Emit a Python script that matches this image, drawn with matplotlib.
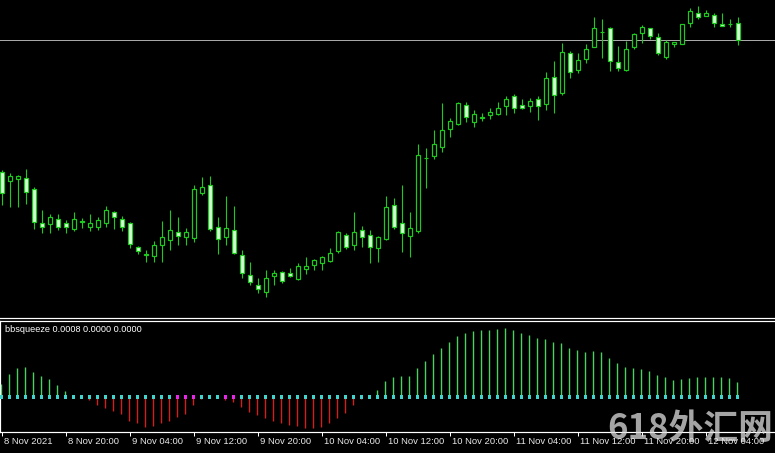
import matplotlib
matplotlib.use("Agg")
import matplotlib.pyplot as plt
import numpy as np

# ---- data (hourly candles, arbitrary price points) ----
opens = [148,139,141,142,131,97,96,101,97,91,99,93,93,97,108,101,97,73,65,64,
         75,80,88,83,82,127,135,93,83,90,65,45,35,28,44,48,47,41,51,55,
         57,59,69,85,75,90,85,72,81,115,97,84,89,162,164,173,191,196,215,198,
         202.5,205,206,214,224,215,214,221,216,243,227,267,250,261,273,288,292,258,250,273,
         287,292,283,263,276,276,297,307,304,305,296,296,297]
highs = [150,147,145,151,133,110,106,106,100,108,102,106,103,114,109,104,98,74,70,79,
         99,110,103,92,135,143,144,103,124,114,70,58,42,50,50,49,52,57,63,61,
         64,72,89,87,108,94,90,84,124,122,135,108,176,172,190,217,202,218,218,210,
         207,212,218,224,226,221,222,224,248,259,277,269,267,276,303,301,293,274,279,287,
         295,292,287,280,278,296,312,314,310,307,307,301,303]
lows = [115,113,113,116,91,87,87,90,87,89,92,89,90,93,91,89,72,66,58,58,
        58,70,75,75,78,125,89,66,75,66,42,35,27,23,35,37,43,40,46,50,
        50,58,67,71,70,73,57,58,80,91,68,63,87,132,161,168,183,195,198,193,
        199,201,205,205,207,211,208,200,210,207,225,242,247,257,273,262,249,249,249,271,
        277,281,265,261,273,276,293,301,304,293,294,293,275]
closes = [127,144,144,128,98,93,103,93,93,101,98,97,100,110,103,93,76,69,66,75,
          83,90,84,88,131,133,91,81,92,67,47,38,31,42,47,39,44,54,54,60,
          63,67,88,73,88,83,73,83,113,93,87,92,165,162,176,190,199,217,203,206,
          203,208,212,221,212,212,219,214,242,225,268,248,260,271,292,288,259,252,271,286,
          293,284,267,278,278,296,309,303,307,297,294,296,280]

# bbsqueeze momentum histogram (units of 0.0001)
momentum = [6.9,12.3,15.5,16.0,13.3,11.2,9.6,6.4,3.2,1.1,0.5,-1.6,-4.3,-5.9,-7.5,-9.1,-12.8,-13.9,-16.0,-15.5,
            -13.9,-12.8,-10.7,-9.1,-4.3,-1.1,-0.5,-0.5,-1.6,-2.7,-5.3,-8.0,-9.6,-11.2,-12.8,-13.9,-14.9,-15.5,-16.5,-16.5,
            -16.0,-13.9,-11.2,-8.5,-4.3,-1.1,0.5,3.7,8.5,10.7,11.2,11.2,15.5,19.2,22.9,26.1,29.3,32.5,34.1,35.2,
            35.7,35.7,36.3,36.8,35.7,34.1,33.1,31.5,30.9,29.3,28.8,26.1,25.1,24.0,24.5,24.0,20.8,18.1,16.0,15.5,
            14.9,13.9,11.7,10.7,9.1,9.6,10.1,10.7,10.7,10.7,10.7,10.1,8.0]
squeeze_on = [22, 23, 24, 28, 29]   # bars with magenta squeeze dots

tick_idx = [0, 8, 16, 24, 32, 40, 48, 56, 64, 72, 80, 88]
tick_labels = ["8 Nov 2021", "8 Nov 20:00", "9 Nov 04:00", "9 Nov 12:00", "9 Nov 20:00",
               "10 Nov 04:00", "10 Nov 12:00", "10 Nov 20:00", "11 Nov 04:00",
               "11 Nov 12:00", "11 Nov 20:00", "12 Nov 04:00"]
indicator_label = "bbsqueeze 0.0008 0.0000 0.0000"
watermark = "618外汇网"

# ---- figure ----
W, H = 775, 453
fig = plt.figure(figsize=(W / 100, H / 100), dpi=100, facecolor="black")
px = 1.0 / 100 * 72  # 1 pixel in points

xlim = (-0.25, (W - 2) / 8.0)

ax = fig.add_axes([0, 1 - 318 / H, 1, 318 / H], facecolor="black")
axi = fig.add_axes([0, 1 - 432 / H, 1, 111 / H], facecolor="black")

n = len(opens)
x = np.arange(n)
o = np.array(opens, float); c = np.array(closes, float)
hi = np.array(highs, float); lo = np.array(lows, float)

edge = "#1ccc1c"
bear_fill = "#d6ffd6"

ax.vlines(x, lo, hi, color=edge, lw=1.1 * px, zorder=2)
bull = c >= o
bottoms = np.minimum(o, c)
heights = np.abs(c - o)
ax.bar(x[bull], heights[bull], bottom=bottoms[bull], width=0.62,
       facecolor="black", edgecolor=edge, linewidth=1.2 * px, zorder=3)
ax.bar(x[~bull], heights[~bull], bottom=bottoms[~bull], width=0.62,
       facecolor=bear_fill, edgecolor=edge, linewidth=1.2 * px, zorder=3)

ax.axhline(closes[-1], color="#a8a8a8", lw=1.0 * px, zorder=1, antialiased=False)

ax.set_xlim(*xlim)
ax.set_ylim(2, 320)
ax.set_xticks([]); ax.set_yticks([])
for s in ["top", "left", "right"]:
    ax.spines[s].set_visible(False)
ax.spines["bottom"].set_color("white")
ax.spines["bottom"].set_linewidth(1.2 * px)

# ---- indicator ----
m = np.array(momentum)
xi = x - 0.08
pos = m >= 0
axi.vlines(xi[pos], 0, m[pos], color="#48d060", lw=1.4 * px, zorder=2)
axi.vlines(xi[~pos], 0, m[~pos], color="#d41e1e", lw=1.4 * px, zorder=2)
dot_colors = ["#e828e8" if i in squeeze_on else "#40d4cc" for i in range(n)]
axi.scatter(xi, np.zeros(n), c=dot_colors, marker="s", s=(3.2 * px) ** 2, linewidths=0, zorder=3)

axi.set_xlim(*xlim)
axi.set_ylim(-18.7, 40.5)
axi.set_yticks([])
axi.set_xticks(tick_idx)
axi.set_xticklabels([])
axi.tick_params(axis="x", direction="out", length=4 * px, width=1 * px, color="white")
axi.spines["right"].set_visible(False)
for s in ["top", "bottom", "left"]:
    axi.spines[s].set_color("white")
    axi.spines[s].set_linewidth(1.2 * px)

axi.text(5 / W, 1 - 9 / 111, indicator_label, transform=axi.transAxes, color="white",
         fontsize=6.6, family="Liberation Sans", va="center", ha="left")

for ti, lab in zip(tick_idx, tick_labels):
    fig.text((2 + 8 * ti + 2) / W, 1 - 441 / H, lab, color="#e8e8e8", fontsize=6.8,
             family="Liberation Sans", va="center", ha="left", zorder=5)

fig.text(690 / W, 1 - 428 / H, watermark, color="#dcdcdc", alpha=0.75, fontsize=25,
         fontweight="bold", family=["Noto Sans CJK SC", "DejaVu Sans"], va="center",
         ha="center", zorder=1)

fig.savefig("out.png", dpi=100, facecolor="black")
